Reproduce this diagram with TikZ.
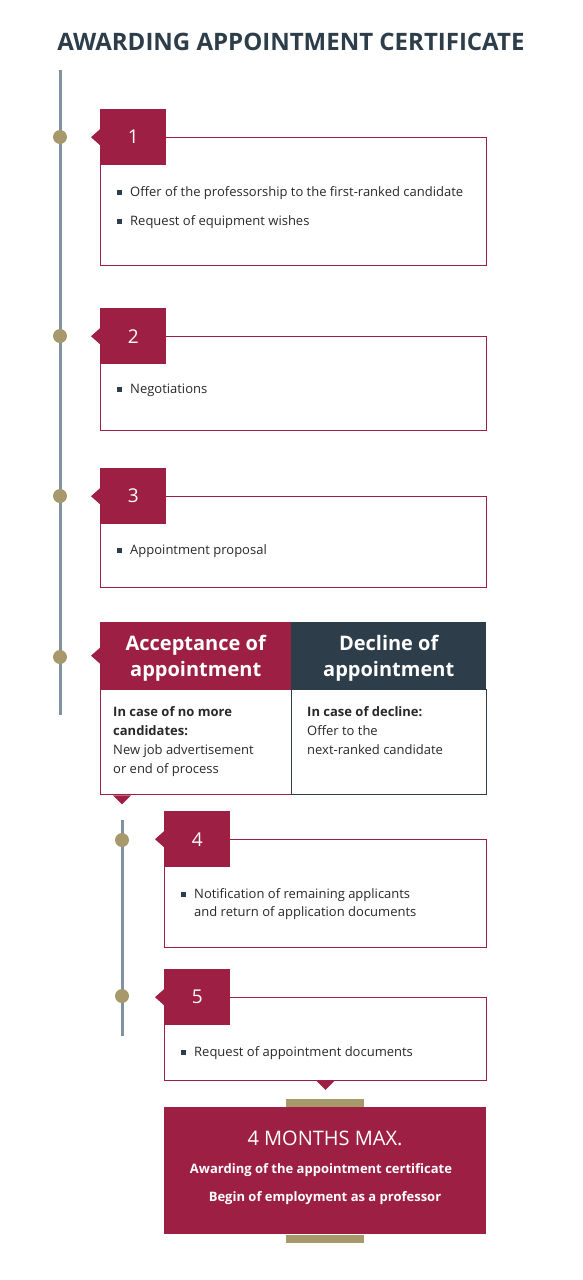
\documentclass[tikz,border=0pt]{standalone}
\usepackage{fontspec}
\setmainfont{Open Sans}
\usepackage{tikz}
\usetikzlibrary{positioning,calc}
\usepackage{xcolor}
\definecolor{crimson}{RGB}{158,31,68}
\definecolor{slate}{RGB}{45,62,74}
\definecolor{khaki}{RGB}{168,153,108}
\definecolor{spine}{RGB}{128,146,164}
\definecolor{bodytext}{RGB}{40,40,40}
\newcommand{\bul}{\textcolor{slate}{\rule[1.5pt]{5pt}{5pt}}\hspace{8pt}}

\begin{document}
\begin{tikzpicture}[
    x=1pt, y=-1pt,
    stepbox/.style={rectangle, draw=crimson, line width=0.9pt, anchor=north west, minimum width=386pt, inner sep=0pt},
    numbox/.style={rectangle, fill=crimson, text=white, font=\fontsize{19}{22}\selectfont, minimum width=66pt, minimum height=56pt, anchor=north west, inner sep=0pt},
    dot/.style={circle, fill=khaki, minimum size=14pt, inner sep=0pt},
    item/.style={anchor=west, font=\fontsize{13}{18}\selectfont, text=bodytext, inner sep=0pt, align=left},
    head/.style={rectangle, anchor=north west, minimum height=67pt, inner sep=0pt},
    headtext/.style={text=white, align=center, inner sep=0pt, font=\bfseries\fontsize{20}{26}\selectfont},
    note/.style={anchor=north west, font=\fontsize{13}{19}\selectfont, text=bodytext, align=left, inner sep=0pt},
    spineline/.style={draw=spine, line width=3pt},
    bar/.style={rectangle, fill=khaki, minimum width=78pt, minimum height=8pt, inner sep=0pt}
]
\useasboundingbox (0,0) rectangle (582,1280);

% Title
\node[font=\bfseries\fontsize{24}{28}\selectfont, text=slate] (title) at (291,42) {AWARDING APPOINTMENT CERTIFICATE};

% Spine 1
\coordinate (s1top) at (60,70);
\coordinate (s1bot) at (60,715);
\draw[spineline] (s1top) -- (s1bot);

% Step 1
\node[stepbox, minimum height=128pt] (box1) at (100,137) {};
\node[numbox] (num1) at (100,109) {1};
\node[dot] (dot1) at (60,137) {};
\node[item] (it1a) at (117,193) {\bul Offer of the professorship to the first-ranked candidate};
\node[item] (it1b) at (117,222) {\bul Request of equipment wishes};

% Step 2
\node[stepbox, minimum height=94pt] (box2) at (100,336) {};
\node[numbox] (num2) at (100,308) {2};
\node[dot] (dot2) at (60,336) {};
\node[item] (it2) at (117,390) {\bul Negotiations};

% Step 3
\node[stepbox, minimum height=91pt] (box3) at (100,496) {};
\node[numbox] (num3) at (100,468) {3};
\node[dot] (dot3) at (60,496) {};
\node[item] (it3) at (117,551) {\bul Appointment proposal};

% Decision
\node[head, fill=crimson, minimum width=191pt] (acc) at (100,622) {};
\node[head, fill=slate, minimum width=195pt] (dec) at (291,622) {};
\node[headtext] (acclab) at ($(acc.center)+(0,3)$) {Acceptance of\\appointment};
\node[headtext] (declab) at ($(dec.center)+(0,3)$) {Decline of\\appointment};
\node[stepbox, minimum width=191pt, minimum height=105pt, below=0pt of acc.south west, anchor=north west] (accbody) {};
\node[stepbox, draw=slate, minimum width=195pt, minimum height=105pt, below=0pt of dec.south west, anchor=north west] (decbody) {};
\node[dot] (dot4) at (60,657) {};
\node[note] (acctext) at (113,706) {\textbf{In case of no more}\\\textbf{candidates:}\\New job advertisement\\or end of process};
\node[note] (dectext) at (307,706) {\textbf{In case of decline:}\\Offer to the\\next-ranked candidate};

% Spine 2
\coordinate (s2top) at (122,820);
\coordinate (s2bot) at (122,1036);
\draw[spineline] (s2top) -- (s2bot);

% Step 4
\node[stepbox, minimum width=322pt, minimum height=108pt] (box4) at (164,839) {};
\node[numbox] (num4) at (164,811) {4};
\node[dot] (dot5) at (122,840) {};
\node[item] (it4) at (181,904) {\bul Notification of remaining applicants\\\hspace{13pt}and return of application documents};

% Step 5
\node[stepbox, minimum width=322pt, minimum height=83pt] (box5) at (164,997) {};
\node[numbox] (num5) at (164,969) {5};
\node[dot] (dot6) at (122,996) {};
\node[item] (it5) at (181,1053) {\bul Request of appointment documents};

% Pointers
\foreach \n in {num1,num2,num3,num4,num5,acc}
  \fill[crimson] (\n.west) ++(0,-8) -- ++(-9,8) -- ++(9,8) -- cycle;
\fill[crimson] ($(accbody.south west)+(13,0)$) -- ++(18,0) -- ++(-9,9) -- cycle;
\fill[crimson] ($(box5.south)+(-9,0)$) -- ++(18,0) -- ++(-9,9) -- cycle;

% Final
\node[rectangle, fill=crimson, anchor=north west, minimum width=322pt, minimum height=127pt, inner sep=0pt] (final) at (164,1107) {};
\node[bar, above=0pt of final] (bartop) {};
\node[bar, below=0pt of final] (barbot) {};
\node[text=white, font=\fontsize{20}{24}\selectfont] (months) at (325,1138) {4 MONTHS MAX.};
\node[text=white, font=\bfseries\fontsize{13}{16}\selectfont] (award) at (321,1170) {Awarding of the appointment certificate};
\node[text=white, font=\bfseries\fontsize{13}{16}\selectfont] (begin) at (325,1198) {Begin of employment as a professor};

\end{tikzpicture}
\end{document}
